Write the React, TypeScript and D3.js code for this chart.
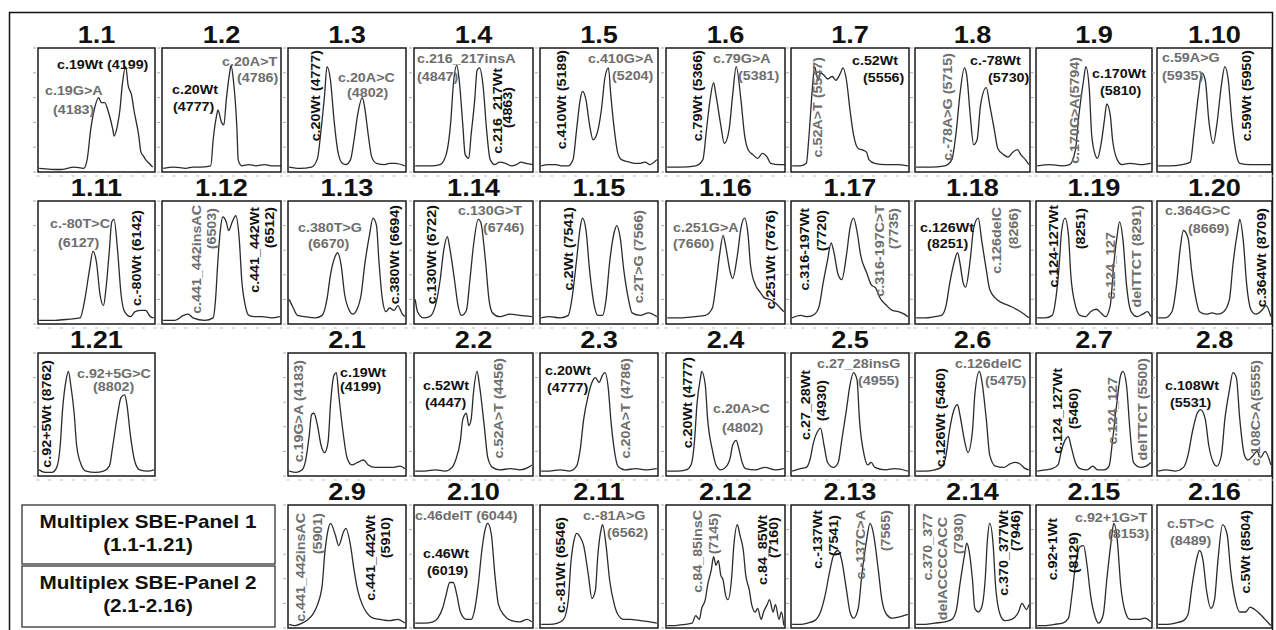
import React, { useEffect, useRef } from 'react';
import * as d3 from 'd3';

type Pt = [number, number];
// [dx, dy, text, colour key, rotated]
type Lbl = [number, number, string, string, number];

// traces: [position % of panel width, intensity % of panel height]
const t1_1: Pt[] = [[1,3],[19,2],[31,4],[39,3],[42,10],[45,34],[48,50],[52,60],[54,56],[57,56],[60,49],[64,34],[65,29],[68,38],[70,50],[72,70],[75,85],[77,70],[80,62],[82,50],[86,30],[88,16],[90,13],[92,10],[95,7],[98,4]];
const t1_2: Pt[] = [[1,3],[10,4],[20,3],[26,4],[32,4],[41,5],[43,26],[46,46],[47,50],[50,40],[52,38],[54,58],[57,81],[58,86],[60,74],[63,34],[64,10],[67,5],[73,6],[79,5],[86,6],[92,5],[100,5]];
const t1_3: Pt[] = [[1,4],[10,3],[20,4],[25,11],[28,34],[31,62],[33,85],[36,74],[39,42],[42,18],[46,7],[49,6],[53,10],[56,26],[59,46],[63,60],[65,52],[68,30],[71,12],[75,7],[82,6],[86,7],[91,7],[99,5]];
const t1_4: Pt[] = [[1,5],[14,5],[22,6],[27,14],[31,42],[33,70],[36,86],[38,74],[41,38],[43,14],[46,11],[48,30],[51,58],[53,82],[55,84],[58,70],[61,34],[64,10],[68,6],[72,8],[77,7],[82,5],[86,6],[90,8],[94,7],[100,6]];
const t1_5: Pt[] = [[1,5],[7,6],[13,6],[18,5],[24,5],[28,10],[31,34],[34,58],[36,65],[39,58],[42,38],[45,26],[48,30],[52,50],[55,76],[58,84],[60,62],[63,34],[66,15],[69,10],[76,8],[80,7],[85,7],[89,8],[93,6],[99,10]];
const t1_6: Pt[] = [[1,4],[12,4],[25,5],[31,10],[34,34],[37,58],[40,72],[42,62],[46,38],[49,23],[53,34],[56,62],[59,85],[63,58],[66,30],[69,18],[73,14],[77,11],[81,15],[85,12],[88,7],[95,6],[100,6]];
const t1_7: Pt[] = [[1,5],[8,5],[13,7],[15,26],[18,66],[20,85],[23,74],[25,80],[28,78],[31,75],[35,77],[38,74],[42,80],[44,84],[47,74],[50,50],[53,30],[57,19],[60,18],[64,16],[66,10],[71,7],[80,6],[90,6],[99,5]];
const t1_8: Pt[] = [[1,4],[13,4],[26,5],[32,10],[36,34],[39,62],[43,84],[45,78],[48,46],[51,22],[54,26],[57,54],[62,68],[65,54],[69,34],[72,19],[77,14],[81,12],[85,16],[89,18],[92,14],[96,10],[99,6]];
const t1_9: Pt[] = [[1,5],[12,6],[22,5],[29,6],[34,18],[37,46],[41,74],[43,85],[46,66],[48,30],[51,14],[53,11],[56,22],[59,42],[61,55],[64,46],[66,26],[70,10],[74,6],[81,7],[90,6],[99,7]];
const t1_10: Pt[] = [[1,5],[11,5],[22,6],[29,8],[32,30],[36,62],[39,80],[42,74],[45,42],[49,23],[52,38],[56,70],[59,85],[62,74],[65,42],[69,14],[72,7],[81,6],[90,6],[99,6]];
const t1_11: Pt[] = [[1,3],[15,3],[27,4],[36,5],[40,20],[44,44],[47,59],[50,50],[53,24],[56,15],[58,28],[61,60],[63,83],[65,85],[68,60],[71,24],[74,10],[79,6],[83,10],[88,11],[92,11],[96,6],[99,5]];
const t1_12: Pt[] = [[1,3],[11,3],[18,7],[22,8],[26,5],[36,3],[43,5],[45,20],[47,52],[49,76],[51,87],[54,83],[56,76],[59,83],[62,88],[65,68],[67,36],[70,15],[73,7],[78,6],[84,6],[92,5],[99,6]];
const t1_13: Pt[] = [[1,20],[4,14],[8,7],[14,6],[23,5],[29,7],[33,20],[36,40],[40,55],[42,58],[45,48],[48,24],[52,11],[55,8],[58,11],[62,24],[65,48],[69,72],[72,86],[75,80],[77,52],[80,20],[83,10],[86,13],[90,11],[93,15],[97,8],[99,6]];
const t1_14: Pt[] = [[1,20],[3,10],[8,5],[13,6],[18,15],[22,36],[25,60],[28,71],[30,62],[34,36],[37,15],[40,7],[44,11],[47,36],[50,64],[54,85],[56,83],[60,52],[63,20],[66,9],[72,6],[81,8],[89,7],[99,6]];
const t1_15: Pt[] = [[1,5],[8,6],[17,5],[24,7],[27,20],[31,52],[34,78],[36,86],[39,76],[42,44],[46,15],[49,7],[53,7],[56,20],[59,50],[63,75],[65,80],[68,70],[71,44],[75,20],[78,9],[85,7],[92,9],[99,6]];
const t1_16: Pt[] = [[1,5],[12,5],[24,6],[33,7],[39,13],[42,32],[45,56],[48,72],[50,64],[54,42],[56,37],[60,56],[63,78],[66,86],[69,72],[71,48],[75,32],[79,26],[83,21],[87,20],[92,17],[96,13],[99,10]];
const t1_17: Pt[] = [[1,5],[8,7],[14,6],[20,8],[24,15],[27,32],[31,52],[34,66],[36,60],[40,40],[43,36],[47,56],[50,78],[53,86],[56,75],[59,56],[64,42],[68,32],[72,29],[75,22],[81,15],[86,11],[91,10],[96,8],[99,6]];
const t1_18: Pt[] = [[1,5],[9,5],[17,6],[23,7],[27,15],[30,32],[34,50],[37,58],[39,50],[42,33],[44,30],[48,52],[51,78],[55,86],[58,68],[62,44],[65,28],[70,21],[74,18],[79,16],[84,14],[90,11],[95,8],[99,5]];
const t1_19: Pt[] = [[1,5],[8,5],[14,7],[17,20],[20,48],[22,75],[25,86],[28,72],[30,40],[34,15],[38,7],[43,6],[47,10],[52,12],[56,9],[60,6],[64,15],[67,48],[70,72],[72,83],[75,68],[78,32],[82,10],[87,6],[92,8],[96,10],[99,6]];
const t1_20: Pt[] = [[1,5],[7,5],[13,10],[17,32],[20,60],[23,76],[27,70],[30,44],[34,20],[37,10],[43,8],[48,9],[53,8],[58,10],[63,20],[66,48],[70,75],[72,85],[75,68],[78,32],[82,11],[86,8],[91,11],[95,15],[99,6]];
const t1_21: Pt[] = [[1,5],[6,3],[12,3],[16,7],[19,25],[21,54],[24,78],[26,85],[28,74],[31,50],[33,25],[37,9],[41,4],[49,3],[56,4],[61,8],[64,25],[68,50],[71,64],[74,66],[76,58],[79,33],[83,11],[87,5],[94,4],[99,5]];
const t2_1: Pt[] = [[1,4],[7,3],[12,5],[15,13],[18,33],[20,50],[22,51],[25,41],[28,25],[31,19],[34,28],[36,58],[39,82],[41,84],[43,66],[47,33],[50,15],[54,9],[59,11],[64,13],[68,9],[74,7],[81,7],[88,7],[95,8],[99,6]];
const t2_2: Pt[] = [[1,4],[9,4],[18,5],[26,4],[32,7],[35,13],[39,29],[41,46],[44,51],[46,41],[48,46],[50,68],[53,85],[55,74],[59,41],[62,15],[66,7],[72,5],[81,6],[89,5],[96,7],[99,9]];
const t2_3: Pt[] = [[1,4],[8,4],[17,5],[25,4],[31,8],[34,21],[37,46],[41,66],[44,76],[47,80],[50,76],[53,82],[55,84],[58,70],[60,46],[63,21],[66,8],[72,5],[81,6],[89,5],[99,6]];
const t2_4: Pt[] = [[1,4],[9,4],[17,5],[21,9],[24,29],[26,58],[29,80],[30,85],[33,74],[35,46],[39,21],[42,9],[46,5],[50,7],[54,15],[56,25],[59,29],[61,23],[64,11],[67,6],[75,5],[83,7],[92,5],[99,6]];
const t2_5: Pt[] = [[1,4],[8,6],[13,7],[16,13],[19,27],[23,37],[25,39],[28,25],[31,11],[36,7],[40,11],[43,29],[47,54],[50,74],[53,84],[56,78],[58,46],[62,17],[65,9],[68,11],[71,7],[80,5],[88,6],[99,4]];
const t2_6: Pt[] = [[1,4],[9,4],[17,5],[23,7],[27,17],[30,37],[34,54],[37,58],[39,50],[43,29],[46,19],[50,37],[52,66],[56,85],[58,78],[62,46],[65,17],[70,8],[77,7],[83,10],[87,11],[91,10],[96,6],[99,5]];
const t2_7: Pt[] = [[1,4],[8,5],[14,6],[19,9],[22,21],[25,29],[28,32],[30,25],[34,11],[38,6],[44,5],[49,8],[53,5],[59,5],[63,8],[66,29],[70,62],[73,82],[75,85],[78,74],[81,37],[84,11],[90,7],[95,8],[99,11]];
const t2_8: Pt[] = [[1,4],[8,5],[16,4],[23,7],[27,17],[31,37],[35,51],[38,54],[42,46],[45,25],[49,11],[52,8],[56,17],[59,46],[63,70],[66,84],[69,80],[72,46],[76,17],[79,13],[83,16],[87,20],[90,15],[94,20],[99,9]];
const t2_9: Pt[] = [[1,3],[6,2],[12,4],[17,7],[21,11],[25,19],[29,35],[31,59],[34,80],[36,85],[40,76],[43,67],[47,78],[49,81],[53,67],[56,47],[59,31],[63,19],[67,12],[72,8],[78,7],[86,6],[93,7],[99,4]];
const t2_10: Pt[] = [[1,4],[9,4],[16,5],[20,8],[24,16],[27,27],[30,37],[33,37],[36,27],[39,13],[44,7],[48,7],[51,15],[54,35],[57,63],[60,81],[62,85],[65,76],[68,43],[71,19],[76,10],[82,6],[89,5],[95,7],[99,5]];
const t2_11: Pt[] = [[1,3],[8,3],[15,4],[20,7],[24,23],[26,51],[29,72],[31,77],[34,74],[37,67],[41,43],[44,24],[47,31],[49,59],[52,81],[53,84],[56,67],[59,39],[63,19],[66,11],[71,7],[76,7],[85,6],[93,5],[99,4]];
const t2_12: Pt[] = [[1,2],[8,2],[16,3],[22,4],[25,10],[28,7],[30,16],[33,23],[35,35],[38,47],[40,58],[42,51],[44,55],[46,43],[48,39],[50,27],[52,23],[55,39],[57,67],[60,84],[62,76],[65,63],[67,43],[70,31],[72,19],[75,13],[77,16],[80,7],[82,13],[85,19],[87,23],[90,13],[92,19],[95,7],[97,13],[99,2]];
const t2_13: Pt[] = [[1,3],[8,3],[14,4],[20,6],[25,13],[29,27],[33,47],[36,59],[40,63],[43,55],[47,31],[50,13],[53,8],[57,16],[60,43],[64,71],[67,85],[70,76],[74,47],[77,23],[81,11],[86,8],[92,9],[99,11]];
const t2_14: Pt[] = [[1,3],[9,3],[17,4],[26,5],[32,7],[36,15],[39,35],[43,59],[45,69],[47,63],[50,39],[52,16],[55,13],[58,17],[61,39],[63,72],[65,85],[68,67],[70,35],[74,11],[78,6],[84,7],[90,13],[93,20],[97,15],[99,19]];
const t2_15: Pt[] = [[1,2],[8,2],[16,3],[23,4],[28,8],[31,27],[34,51],[38,66],[41,67],[44,51],[47,27],[51,9],[54,4],[58,11],[61,39],[65,72],[67,85],[70,72],[73,35],[77,13],[81,7],[88,7],[94,8],[99,5]];
const t2_16: Pt[] = [[1,3],[8,3],[16,4],[23,6],[27,11],[30,31],[34,54],[37,63],[40,55],[43,31],[47,16],[50,23],[53,55],[57,84],[61,76],[64,47],[68,23],[72,13],[77,13],[81,17],[85,15],[90,11],[94,7],[99,2]];

const panelIds = [
  '1.1', '1.2', '1.3', '1.4', '1.5', '1.6', '1.7', '1.8', '1.9', '1.10',
  '1.11', '1.12', '1.13', '1.14', '1.15', '1.16', '1.17', '1.18', '1.19', '1.20',
  '1.21', '2.1', '2.2', '2.3', '2.4', '2.5', '2.6', '2.7', '2.8',
  '2.9', '2.10', '2.11', '2.12', '2.13', '2.14', '2.15', '2.16',
];

const traces: Pt[][] = [
  t1_1, t1_2, t1_3, t1_4, t1_5, t1_6, t1_7, t1_8, t1_9, t1_10,
  t1_11, t1_12, t1_13, t1_14, t1_15, t1_16, t1_17, t1_18, t1_19, t1_20,
  t1_21, t2_1, t2_2, t2_3, t2_4, t2_5, t2_6, t2_7, t2_8,
  t2_9, t2_10, t2_11, t2_12, t2_13, t2_14, t2_15, t2_16,
];

// peak annotations (text, wild type = k, variant = g)
const labels: Lbl[][] = [
  [[19,21,'c.19Wt (4199)','k',0],[7,47,'c.19G>A','g',0],[15,66,'(4183)','g',0]],
  [[60,18,'c.20A>T','g',0],[75,34,'(4786)','g',0],[10,46,'c.20Wt','k',0],[11,63,'(4777)','k',0]],
  [[32,2,'c.20Wt (4777)','k',1],[50,34,'c.20A>C','g',0],[59,49,'(4802)','g',0]],
  [[3,15,'c.216_217insA','g',0],[3,33,'(4847)','g',0],[88,20,'c.216_217Wt','k',1],[98,39,'(4863)','k',1]],
  [[26,2,'c.410Wt (5189)','k',1],[48,15,'c.410G>A','g',0],[72,32,'(5204)','g',0]],
  [[36,2,'c.79Wt (5366)','k',1],[47,15,'c.79G>A','g',0],[72,32,'(5381)','g',0]],
  [[31,9,'c.52A>T (5547)','g',1],[61,17,'c.52Wt','k',0],[72,34,'(5556)','k',0]],
  [[37,5,'c.-78A>G (5715)','g',1],[55,17,'c.-78Wt','k',0],[73,34,'(5730)','k',0]],
  [[43,9,'c.170G>A(5794)','g',1],[56,30,'c.170Wt','k',0],[64,47,'(5810)','k',0]],
  [[5,14,'c.59A>G','g',0],[5,32,'(5935)','g',0],[94,2,'c.59Wt (5950)','k',1]],
  [[12,27,'c.-80T>C','g',0],[20,46,'(6127)','g',0],[103,9,'c.-80Wt (6142)','k',1]],
  [[39,4,'c.441_442insAC','g',1],[54,7,'(6503)','g',1],[97,6,'c.441_442Wt','k',1],[112,6,'(6512)','k',1]],
  [[10,31,'c.380T>G','g',0],[20,47,'(6670)','g',0],[111,4,'c.380Wt (6694)','k',1]],
  [[22,4,'c.130Wt (6722)','k',1],[44,14,'c.130G>T','g',0],[69,31,'(6746)','g',0]],
  [[33,6,'c.2Wt (7541)','k',1],[103,9,'c.2T>G (7566)','g',1]],
  [[7,31,'c.251G>A','g',0],[7,47,'(7660)','g',0],[109,9,'c.251Wt (7676)','k',1]],
  [[18,7,'c.316-197Wt','k',1],[35,9,'(7720)','k',1],[93,4,'c.316-197C>T','g',1],[107,7,'(7735)','g',1]],
  [[5,31,'c.126Wt','k',0],[12,47,'(8251)','k',0],[86,6,'c.126delC','g',1],[103,7,'(8266)','g',1]],
  [[22,4,'c.124-127Wt','k',1],[49,7,'(8251)','k',1],[79,31,'c.124_127','g',1],[105,4,'delTTCT (8291)','g',1]],
  [[8,14,'c.364G>C','g',0],[31,32,'(8669)','g',0],[109,7,'c.364Wt (8709)','k',1]],
  [[13,7,'c.92+5Wt (8762)','k',1],[39,25,'c.92+5G>C','g',0],[55,38,'(8802)','g',0]],
  [[15,7,'c.19G>A (4183)','g',1],[52,24,'c.19Wt','k',0],[52,38,'(4199)','k',0]],
  [[9,37,'c.52Wt','k',0],[11,54,'(4447)','k',0],[89,5,'c.52A>T (4456)','g',1]],
  [[5,22,'c.20Wt','k',0],[7,39,'(4777)','k',0],[90,5,'c.20A>T (4786)','g',1]],
  [[26,4,'c.20Wt (4777)','k',1],[47,60,'c.20A>C','g',0],[56,79,'(4802)','g',0]],
  [[19,17,'c.27_28Wt','k',1],[35,27,'(4930)','k',1],[26,15,'c.27_28insG','g',0],[67,32,'(4955)','g',0]],
  [[30,15,'c.126Wt (5460)','k',1],[40,15,'c.126delC','g',0],[70,32,'(5475)','g',0]],
  [[26,15,'c.124_127Wt','k',1],[42,35,'(5460)','k',1],[81,24,'c.124_127','g',1],[111,5,'delTTCT (5500)','g',1]],
  [[8,37,'c.108Wt','k',0],[13,54,'(5531)','k',0],[103,7,'c.108C>A(5555)','g',1]],
  [[17,8,'c.441_442insAC','g',1],[34,8,'(5901)','g',1],[87,10,'c.441_442Wt','k',1],[102,12,'(5910)','k',1]],
  [[1,15,'c.46delT (6044)','g',0],[9,53,'c.46Wt','k',0],[13,70,'(6019)','k',0]],
  [[25,12,'c.-81Wt (6546)','k',1],[43,15,'c.-81A>G','g',0],[67,32,'(6562)','g',0]],
  [[36,5,'c.84_85insC','g',1],[52,8,'(7145)','g',1],[101,10,'c.84_85Wt','k',1],[112,12,'(7160)','k',1]],
  [[31,5,'c.-137Wt','k',1],[47,10,'(7541)','k',1],[74,5,'c.-137C>A','g',1],[99,5,'(7565)','g',1]],
  [[17,8,'c.370_377','g',1],[32,12,'delACCCCACC','g',1],[48,8,'(7930)','g',1],[93,5,'c.370_377Wt','k',1],[105,5,'(7946)','k',1]],
  [[21,13,'c.92+1Wt','k',1],[42,27,'(8129)','k',1],[39,17,'c.92+1G>T','g',0],[72,33,'(8153)','g',0]],
  [[10,23,'c.5T>C','g',0],[13,40,'(8489)','g',0],[93,5,'c.5Wt (8504)','k',1]],
];

const legendLines = [
  ['Multiplex SBE-Panel 1', '(1.1-1.21)'],
  ['Multiplex SBE-Panel 2', '(2.1-2.16)'],
];

const W = 1276;
const H = 630;
const colLeft = [38, 162, 288, 414, 540, 666, 791, 915, 1036, 1157];
const colWidth = [117, 119, 118, 119, 118, 119, 118, 115, 116, 115];
const rowTop = [48, 201, 353, 505];
const rowHeight = [124, 123, 123, 123];
const FONT = '"Liberation Sans", Arial, sans-serif';

function slotOf(i: number): [number, number] {
  if (i < 20) return [Math.floor(i / 10), i % 10];
  if (i === 20) return [2, 0];
  if (i < 29) return [2, i - 19];
  return [3, i - 27];
}

export default function App() {
  const svgRef = useRef<SVGSVGElement>(null);

  useEffect(() => {
    if (!svgRef.current) return;
    const svg = d3.select(svgRef.current);
    svg.selectAll('*').remove();

    svg.append('rect').attr('width', W).attr('height', H).attr('fill', '#fff');

    // outer frame
    svg.append('rect')
      .attr('x', 9.5).attr('y', 12.5)
      .attr('width', 1263).attr('height', 640)
      .attr('fill', 'none').attr('stroke', '#111').attr('stroke-width', 1.5);

    const addText = (
      g: d3.Selection<SVGGElement, unknown, null, undefined>,
      x: number, y: number, txt: string, size: number, fill: string,
      rot: boolean, anchor: string, sx = 1.1,
    ) => {
      g.append('text')
        .attr('transform', `translate(${x},${y})${rot ? ' rotate(-90)' : ''} scale(${sx},1)`)
        .attr('text-anchor', anchor)
        .attr('fill', fill)
        .style('font-family', FONT)
        .style('font-size', `${size}px`)
        .style('font-weight', 'bold')
        .text(txt);
    };

    const line = d3.line<Pt>().curve(d3.curveMonotoneX);

    panelIds.forEach((id, i) => {
      const [r, c] = slotOf(i);
      const left = colLeft[c];
      const w = colWidth[c];
      const top = rowTop[r];
      const h = rowHeight[r];
      const g = svg.append('g');

      const x = d3.scaleLinear().domain([0, 100]).range([left, left + w]);
      const y = d3.scaleLinear().domain([0, 100]).range([top + h, top]);

      // faint axis ticks around the box
      g.selectAll('line.yt')
        .data(y.ticks(6))
        .enter().append('line')
        .attr('x1', left - 5).attr('x2', left - 2)
        .attr('y1', d => y(d)).attr('y2', d => y(d))
        .attr('stroke', '#aaa').attr('stroke-width', 1);

      g.selectAll('line.xt')
        .data(x.ticks(8))
        .enter().append('line')
        .attr('x1', d => x(d) - 1.5).attr('x2', d => x(d) + 1.5)
        .attr('y1', top + h + 4).attr('y2', top + h + 4)
        .attr('stroke', '#bbb').attr('stroke-width', 1);

      // trace
      line.x(d => x(d[0])).y(d => y(d[1]));
      g.append('path')
        .datum(traces[i])
        .attr('d', line)
        .attr('fill', 'none')
        .attr('stroke', '#2b2b2b')
        .attr('stroke-width', 1.3)
        .attr('stroke-linejoin', 'round');

      // box
      g.append('rect')
        .attr('x', left).attr('y', top)
        .attr('width', w).attr('height', h)
        .attr('fill', 'none')
        .attr('stroke', '#1a1a1a')
        .attr('stroke-width', 1.5);

      // title
      addText(g, left + w / 2, top - 5, id, 23, '#111', false, 'middle', 1.18);

      // labels
      labels[i].forEach(([dx, dy, txt, col, rot]) => {
        const fill = col === 'k' ? '#111' : '#6e6e6e';
        addText(g, left + dx, top + dy, txt, 13, fill, rot === 1, rot === 1 ? 'end' : 'start');
      });
    });

    // legend boxes
    const lg = svg.append('g');
    const boxes = [[505, 59], [566, 61]];
    boxes.forEach(([by, bh], k) => {
      lg.append('rect')
        .attr('x', 22).attr('y', by)
        .attr('width', 253).attr('height', bh)
        .attr('fill', 'none').attr('stroke', '#333').attr('stroke-width', 1.3);
      addText(lg, 148, by + 23, legendLines[k][0], 18, '#111', false, 'middle', 1.15);
      addText(lg, 148, by + 46, legendLines[k][1], 18, '#111', false, 'middle', 1.15);
    });
  }, []);

  return (
    <svg
      ref={svgRef}
      width={W}
      height={H}
      viewBox={`0 0 ${W} ${H}`}
      style={{ position: 'absolute', left: 0, top: 0, display: 'block' }}
    />
  );
}
